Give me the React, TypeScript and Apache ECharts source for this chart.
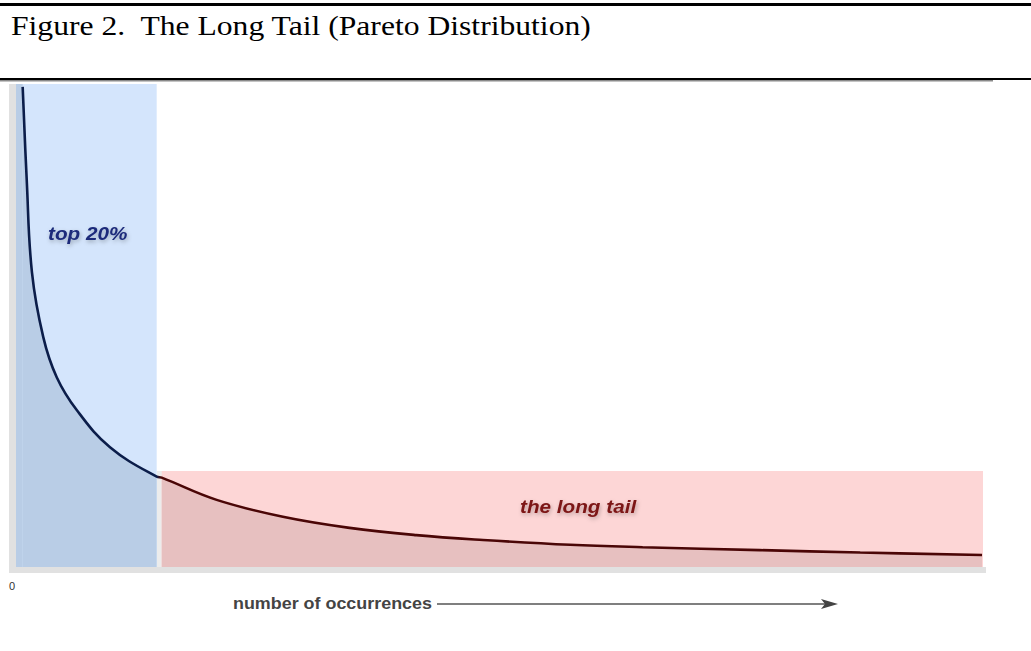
import React, { useEffect, useRef } from "react";
import * as echarts from "echarts";

// Curve: x = rank position (0..100), y = frequency (0..100)
const curveX = [0.69, 1.11, 1.65, 2.82, 4.21, 6.28, 9.72, 14.55, 15.07, 20.75, 27.6, 34.5, 41.4, 48.3, 57.3, 64.8, 76.9, 87.3, 99.9];
const curveY = [99.4, 80.1, 61.0, 47.6, 39.3, 32.5, 24.8, 18.7, 18.5, 13.9, 10.4, 8.1, 6.6, 5.6, 4.6, 4.1, 3.5, 3.0, 2.5];

// Regions
const headRegion = { x0: 0, x1: 14.55, y1: 100 };
const tailRegion = { x0: 15.07, x1: 100, y1: 19.9 };

const titleText = "Figure 2.  The Long Tail (Pareto Distribution)";
const headLabel = "top 20%";
const tailLabel = "the long tail";
const axisLabel = "number of occurrences";
const originLabel = "0";

export default function App() {
  const ref = useRef<HTMLDivElement>(null);
  useEffect(() => {
    if (!ref.current) return;
    const chart = echarts.init(ref.current, null, { renderer: "svg" });
    const pts = curveX.map((x, i) => [x, curveY[i]]);
    const headPts = pts.filter((p) => p[0] <= headRegion.x1);
    const tailPts = pts.filter((p) => p[0] >= tailRegion.x0);
    const sans = "Liberation Sans, Arial, sans-serif";
    const shadow = { textShadowColor: "rgba(0,0,0,0.28)", textShadowBlur: 4, textShadowOffsetX: 1, textShadowOffsetY: 2 };
    const smoothCfg = { smooth: 0.4, symbol: "none", showSymbol: false };
    const lineGradient = new echarts.graphic.LinearGradient(
      0, 0, 1031, 0,
      [
        { offset: 0, color: "#0b1d4a" },
        { offset: 0.152, color: "#0b1d4a" },
        { offset: 0.156, color: "#4a0606" },
        { offset: 1, color: "#4a0606" },
      ],
      true
    );

    chart.setOption({
      animation: false,
      backgroundColor: "#ffffff",
      grid: { left: 16, top: 84, width: 967, height: 483, containLabel: false },
      xAxis: { type: "value", min: 0, max: 100, show: false },
      yAxis: { type: "value", min: 0, max: 100, show: false },
      series: [
        {
          type: "line",
          data: [[50, 50]],
          z: 1,
          silent: true,
          symbol: "none",
          showSymbol: false,
          lineStyle: { width: 0 },
          markArea: {
            silent: true,
            data: [
              [
                { coord: [headRegion.x0, 0], itemStyle: { color: "#d4e5fc" } },
                { coord: [headRegion.x1, headRegion.y1] },
              ],
              [
                { coord: [tailRegion.x0, 0], itemStyle: { color: "#fdd6d6" } },
                { coord: [tailRegion.x1, tailRegion.y1] },
              ],
              [
                { coord: [headRegion.x0, 0], itemStyle: { color: "#b9cde6" } },
                { coord: [curveX[0], headRegion.y1] },
              ],
            ],
          },
        },
        {
          type: "line",
          data: headPts,
          z: 2,
          ...smoothCfg,
          lineStyle: { width: 0 },
          areaStyle: { color: "#b9cde6", opacity: 1 },
        },
        {
          type: "line",
          data: tailPts,
          z: 2,
          ...smoothCfg,
          lineStyle: { width: 0 },
          areaStyle: { color: "#e7c0c0", opacity: 1 },
        },
        {
          type: "line",
          data: pts,
          z: 3,
          ...smoothCfg,
          lineStyle: { width: 2.6, color: lineGradient },
        },
      ],
      graphic: [
        { type: "rect", z: 50, shape: { x: 0, y: 3, width: 1031, height: 3 }, style: { fill: "#000" } },
        { type: "rect", z: 50, shape: { x: 0, y: 78, width: 1031, height: 2 }, style: { fill: "#000" } },
        { type: "rect", z: 50, shape: { x: 0, y: 80, width: 993, height: 1.5 }, style: { fill: "#8a8a8a" } },
        { type: "rect", z: -1, shape: { x: 9, y: 84, width: 7, height: 489 }, style: { fill: "#e1e1e1" } },
        { type: "rect", z: -1, shape: { x: 9, y: 567, width: 977, height: 6 }, style: { fill: "#e1e1e1" } },
        { type: "rect", z: -1, shape: { x: 157, y: 471, width: 5, height: 96 }, style: { fill: "#ececec" } },
        {
          type: "text", z: 60, x: 11, y: 25, scaleX: 1.13,
          style: { text: titleText, font: "28px 'Liberation Serif', 'Times New Roman', serif", fill: "#000", textVerticalAlign: "middle", textAlign: "left" },
        },
        {
          type: "text", z: 60, x: 48, y: 233, scaleX: 1.12,
          style: { text: headLabel, fontFamily: sans, fontSize: 18.5, fontWeight: "bold", fontStyle: "italic", fill: "#1c2a7a", textVerticalAlign: "middle", textAlign: "left", ...shadow },
        },
        {
          type: "text", z: 60, x: 520, y: 506, scaleX: 1.12,
          style: { text: tailLabel, fontFamily: sans, fontSize: 18.5, fontWeight: "bold", fontStyle: "italic", fill: "#7b1414", textVerticalAlign: "middle", textAlign: "left", ...shadow },
        },
        {
          type: "text", z: 60, x: 9, y: 586,
          style: { text: originLabel, fontFamily: sans, fontSize: 11, fill: "#333", textVerticalAlign: "middle", textAlign: "left" },
        },
        {
          type: "text", z: 60, x: 233, y: 604, scaleX: 1.12,
          style: { text: axisLabel, fontFamily: sans, fontSize: 16, fontWeight: "bold", fill: "#444", textVerticalAlign: "middle", textAlign: "left" },
        },
        { type: "line", z: 60, shape: { x1: 437, y1: 604, x2: 828, y2: 604 }, style: { stroke: "#555", lineWidth: 1.6 } },
        { type: "polygon", z: 60, shape: { points: [[821, 599], [838, 604], [821, 609], [825, 604]] }, style: { fill: "#444" } },
      ],
    });
    return () => chart.dispose();
  }, []);
  return (
    <div
      ref={ref}
      style={{ position: "fixed", left: 0, top: 0, width: 1031, height: 651, background: "#fff" }}
    />
  );
}
